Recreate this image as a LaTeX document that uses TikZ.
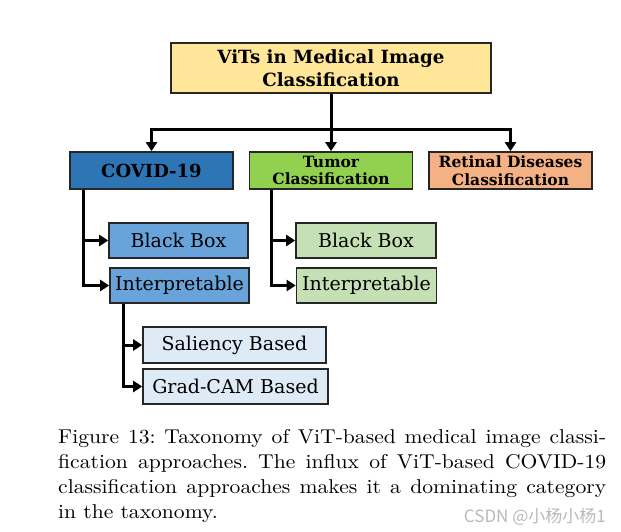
\documentclass[tikz,border=0pt]{standalone}
\usepackage{fontspec}
\newfontfamily\cjk{Noto Sans CJK SC}
\newfontfamily\boxfont{DejaVu Serif}
\newfontfamily\capfont{lmroman10-regular.otf}[FakeStretch=1.08]
\usetikzlibrary{arrows.meta,positioning}
\definecolor{rootyellow}{HTML}{FFE699}
\definecolor{covidblue}{HTML}{2E75B6}
\definecolor{tumorgreen}{HTML}{92D050}
\definecolor{retinalorange}{HTML}{F4B183}
\definecolor{midblue}{HTML}{68A4DA}
\definecolor{palegreen}{HTML}{C5E0B4}
\definecolor{paleblue}{HTML}{DEEBF7}

\begin{document}
\begin{tikzpicture}[x=1pt,y=-1pt,
    box node/.style={draw=black!85,line width=1.6pt,inner sep=0pt,align=center},
    root node/.style={box node,fill=rootyellow,minimum width=320pt,minimum height=50pt,
                      font=\boxfont\fontsize{18.2}{23}\selectfont\bfseries},
    cat node/.style={box node,minimum width=163pt,minimum height=37pt,
                     font=\boxfont\fontsize{15.5}{17.5}\selectfont\bfseries},
    sub node/.style={box node,minimum width=139pt,minimum height=35pt,
                     font=\boxfont\fontsize{19}{21}\selectfont},
    leaf node/.style={box node,fill=paleblue,minimum height=35pt,
                      font=\boxfont\fontsize{19}{21}\selectfont},
    link/.style={line width=3pt,-{Triangle[length=9pt,width=11pt]}}]

  \useasboundingbox (0,0) rectangle (621,532);

  % boxes
  \node[root node] (root) at (331,68) {ViTs in Medical Image\\Classification};

  \node[cat node,fill=covidblue,font=\boxfont\fontsize{18}{20}\selectfont\bfseries] (covid) at (151.5,170.5) {COVID-19};
  \node[cat node,fill=tumorgreen] (tumor) at (331,170.5) {Tumor\\Classification};
  \node[cat node,fill=retinalorange] (retinal) at (510.5,170.5) {Retinal Diseases\\Classification};

  \node[sub node,fill=midblue] (covidbb) at (178.5,240.5) {Black Box};
  \node[sub node,fill=midblue] (covidint) at (179.5,285.5) {Interpretable};
  \node[sub node,fill=palegreen,minimum width=140pt] (tumorbb) at (366,240.5) {Black Box};
  \node[sub node,fill=palegreen,minimum width=140pt] (tumorint) at (366.5,285.5) {Interpretable};

  \node[leaf node,minimum width=183pt,minimum height=36pt] (saliency) at (234.5,345) {Saliency Based};
  \node[leaf node,minimum width=185pt] (gradcam) at (235.5,386.5) {Grad-CAM Based};

  % connectors
  \coordinate (bus) at (331,130);
  \draw[link] (root) -- (tumor);
  \draw[link] (bus) -| (covid);
  \draw[link] (bus) -| (retinal);

  \draw[link] ([xshift=14pt]covid.south west) |- (covidbb);
  \draw[link] ([xshift=14pt]covid.south west) |- (covidint);
  \draw[link] ([xshift=23pt]tumor.south west) |- (tumorbb);
  \draw[link] ([xshift=23pt]tumor.south west) |- (tumorint);
  \draw[link] ([xshift=14pt]covidint.south west) |- (saliency);
  \draw[link] ([xshift=14pt]covidint.south west) |- (gradcam);

  % caption
  \node[anchor=north west,text width=548pt,inner sep=0pt,align=justify,
        font=\capfont\fontsize{20}{25}\selectfont\frenchspacing] (caption) at (58,429)
    {Figure 13: Taxonomy of ViT-based medical image classi-\linebreak
     fication approaches. The influx of ViT-based COVID-19\linebreak
     classification approaches makes it a dominating category\linebreak
     in the taxonomy.};

  \node[anchor=south east,inner sep=0pt,text=gray!55,
        font=\cjk\fontsize{17}{17}\selectfont] (mark) at (606,526) {CSDN @小杨小杨1};
\end{tikzpicture}
\end{document}
